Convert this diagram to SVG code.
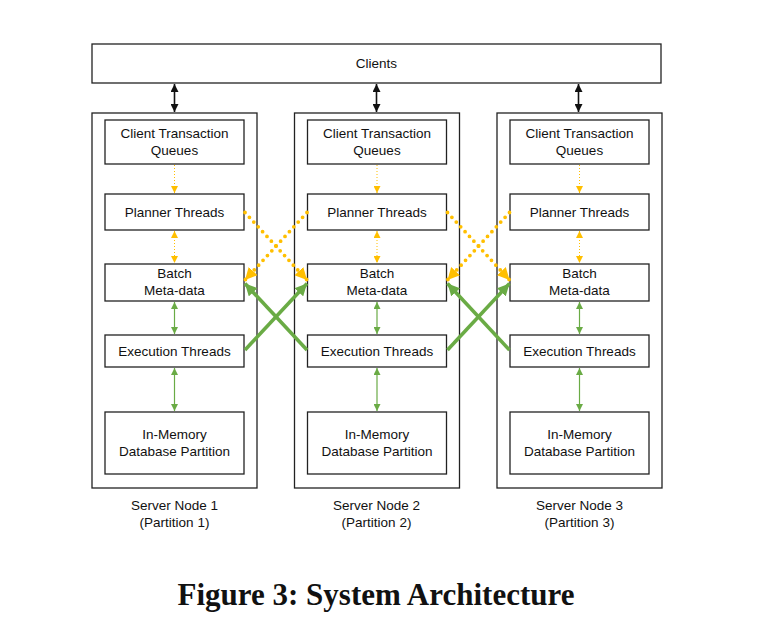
<svg xmlns="http://www.w3.org/2000/svg" width="762" height="628" viewBox="0 0 762 628">
<style>
.box{fill:#fff;stroke:#222;stroke-width:1.3}
.t{font-family:"Liberation Sans","DejaVu Sans",sans-serif;font-size:13.5px;fill:#111;text-anchor:middle}
.cap{font-family:"Liberation Serif","DejaVu Serif",serif;font-size:31px;font-weight:bold;fill:#111;text-anchor:middle}
.blk{stroke:#111;stroke-width:1.6;fill:none}
.yt{stroke:#FFBF00;stroke-width:1;stroke-dasharray:1 2;fill:none}
.gt{stroke:#6AAB45;stroke-width:1.2;fill:none}
.yk{stroke:#FFBF00;stroke-width:3.8;stroke-dasharray:0 6.5;stroke-linecap:round;fill:none}
.gk{stroke:#6AAB45;stroke-width:3.6;fill:none}
</style>
<defs>
<marker id="ab" markerUnits="userSpaceOnUse" viewBox="0 0 10 10" refX="10" refY="5" markerWidth="8" markerHeight="8" orient="auto-start-reverse"><path d="M0,0 L10,5 L0,10 Z" fill="#111"/></marker>
<marker id="ay" markerUnits="userSpaceOnUse" viewBox="0 0 10 10" refX="10" refY="5" markerWidth="7" markerHeight="7" orient="auto-start-reverse"><path d="M0,0 L10,5 L0,10 Z" fill="#FFBF00"/></marker>
<marker id="ag" markerUnits="userSpaceOnUse" viewBox="0 0 10 10" refX="10" refY="5" markerWidth="7" markerHeight="7" orient="auto-start-reverse"><path d="M0,0 L10,5 L0,10 Z" fill="#6AAB45"/></marker>
<marker id="AY" markerUnits="userSpaceOnUse" viewBox="0 0 10 10" refX="10" refY="5" markerWidth="12" markerHeight="12" orient="auto"><path d="M0,0 L10,5 L0,10 Z" fill="#FFBF00"/></marker>
<marker id="AG" markerUnits="userSpaceOnUse" viewBox="0 0 10 10" refX="10" refY="5" markerWidth="12" markerHeight="12" orient="auto"><path d="M0,0 L10,5 L0,10 Z" fill="#6AAB45"/></marker>
</defs>
<rect width="762" height="628" fill="#fff"/>

<g id="clients"><rect class="box" x="92" y="44" width="569" height="39"/><text class="t" x="376.5" y="68">Clients</text></g>

<g id="server1">
<rect class="box" x="92" y="113" width="165" height="375"/>
<text class="t" x="174.5" y="510">Server Node 1</text><text class="t" x="174.5" y="527">(Partition 1)</text>
</g>
<g id="server2">
<rect class="box" x="294.5" y="113" width="165" height="375"/>
<text class="t" x="376.5" y="510">Server Node 2</text><text class="t" x="376.5" y="527">(Partition 2)</text>
</g>
<g id="server3">
<rect class="box" x="497" y="113" width="165" height="375"/>
<text class="t" x="579.5" y="510">Server Node 3</text><text class="t" x="579.5" y="527">(Partition 3)</text>
</g>

<g id="ctq1"><rect class="box" x="105" y="120" width="139" height="44"/><text class="t" x="174.5" y="138">Client Transaction</text><text class="t" x="174.5" y="155">Queues</text></g>
<g id="ctq2"><rect class="box" x="307.5" y="120" width="139" height="44"/><text class="t" x="377" y="138">Client Transaction</text><text class="t" x="377" y="155">Queues</text></g>
<g id="ctq3"><rect class="box" x="510" y="120" width="139" height="44"/><text class="t" x="579.5" y="138">Client Transaction</text><text class="t" x="579.5" y="155">Queues</text></g>

<g id="plan1"><rect class="box" x="105" y="194" width="139" height="36"/><text class="t" x="174.5" y="216.5">Planner Threads</text></g>
<g id="plan2"><rect class="box" x="307.5" y="194" width="139" height="36"/><text class="t" x="377" y="216.5">Planner Threads</text></g>
<g id="plan3"><rect class="box" x="510" y="194" width="139" height="36"/><text class="t" x="579.5" y="216.5">Planner Threads</text></g>

<g id="batch1"><rect class="box" x="105" y="264" width="139" height="37"/><text class="t" x="174.5" y="278">Batch</text><text class="t" x="174.5" y="295">Meta-data</text></g>
<g id="batch2"><rect class="box" x="307.5" y="264" width="139" height="37"/><text class="t" x="377" y="278">Batch</text><text class="t" x="377" y="295">Meta-data</text></g>
<g id="batch3"><rect class="box" x="510" y="264" width="139" height="37"/><text class="t" x="579.5" y="278">Batch</text><text class="t" x="579.5" y="295">Meta-data</text></g>

<g id="exec1"><rect class="box" x="105" y="335" width="139" height="32"/><text class="t" x="174.5" y="355.5">Execution Threads</text></g>
<g id="exec2"><rect class="box" x="307.5" y="335" width="139" height="32"/><text class="t" x="377" y="355.5">Execution Threads</text></g>
<g id="exec3"><rect class="box" x="510" y="335" width="139" height="32"/><text class="t" x="579.5" y="355.5">Execution Threads</text></g>

<g id="mem1"><rect class="box" x="105" y="412" width="139" height="62"/><text class="t" x="174.5" y="438.5">In-Memory</text><text class="t" x="174.5" y="455.5">Database Partition</text></g>
<g id="mem2"><rect class="box" x="307.5" y="412" width="139" height="62"/><text class="t" x="377" y="438.5">In-Memory</text><text class="t" x="377" y="455.5">Database Partition</text></g>
<g id="mem3"><rect class="box" x="510" y="412" width="139" height="62"/><text class="t" x="579.5" y="438.5">In-Memory</text><text class="t" x="579.5" y="455.5">Database Partition</text></g>

<g id="connectors">
<line class="blk" x1="174.5" y1="84" x2="174.5" y2="112" marker-start="url(#ab)" marker-end="url(#ab)"/>
<line class="blk" x1="376.5" y1="84" x2="376.5" y2="112" marker-start="url(#ab)" marker-end="url(#ab)"/>
<line class="blk" x1="578.5" y1="84" x2="578.5" y2="112" marker-start="url(#ab)" marker-end="url(#ab)"/>

<line class="yt" x1="174.5" y1="165" x2="174.5" y2="193" marker-end="url(#ay)"/>
<line class="yt" x1="377" y1="165" x2="377" y2="193" marker-end="url(#ay)"/>
<line class="yt" x1="579.5" y1="165" x2="579.5" y2="193" marker-end="url(#ay)"/>

<line class="yt" x1="174.5" y1="231" x2="174.5" y2="263" marker-start="url(#ay)" marker-end="url(#ay)"/>
<line class="yt" x1="377" y1="231" x2="377" y2="263" marker-start="url(#ay)" marker-end="url(#ay)"/>
<line class="yt" x1="579.5" y1="231" x2="579.5" y2="263" marker-start="url(#ay)" marker-end="url(#ay)"/>

<line class="gt" x1="174.5" y1="302" x2="174.5" y2="334" marker-start="url(#ag)" marker-end="url(#ag)"/>
<line class="gt" x1="377" y1="302" x2="377" y2="334" marker-start="url(#ag)" marker-end="url(#ag)"/>
<line class="gt" x1="579.5" y1="302" x2="579.5" y2="334" marker-start="url(#ag)" marker-end="url(#ag)"/>

<line class="gt" x1="174.5" y1="368" x2="174.5" y2="411" marker-start="url(#ag)" marker-end="url(#ag)"/>
<line class="gt" x1="377" y1="368" x2="377" y2="411" marker-start="url(#ag)" marker-end="url(#ag)"/>
<line class="gt" x1="579.5" y1="368" x2="579.5" y2="411" marker-start="url(#ag)" marker-end="url(#ag)"/>

<line class="yk" x1="245" y1="212.5" x2="307" y2="280" marker-end="url(#AY)"/>
<line class="yk" x1="307" y1="212.5" x2="245" y2="280" marker-end="url(#AY)"/>
<line class="yk" x1="447.5" y1="212.5" x2="509.5" y2="280" marker-end="url(#AY)"/>
<line class="yk" x1="509.5" y1="212.5" x2="447.5" y2="280" marker-end="url(#AY)"/>

<line class="gk" x1="245" y1="350" x2="307" y2="283.5" marker-end="url(#AG)"/>
<line class="gk" x1="307" y1="350" x2="245" y2="283.5" marker-end="url(#AG)"/>
<line class="gk" x1="447.5" y1="350" x2="509.5" y2="283.5" marker-end="url(#AG)"/>
<line class="gk" x1="509.5" y1="350" x2="447.5" y2="283.5" marker-end="url(#AG)"/>
</g>

<text class="cap" x="376" y="605">Figure 3: System Architecture</text>
</svg>
